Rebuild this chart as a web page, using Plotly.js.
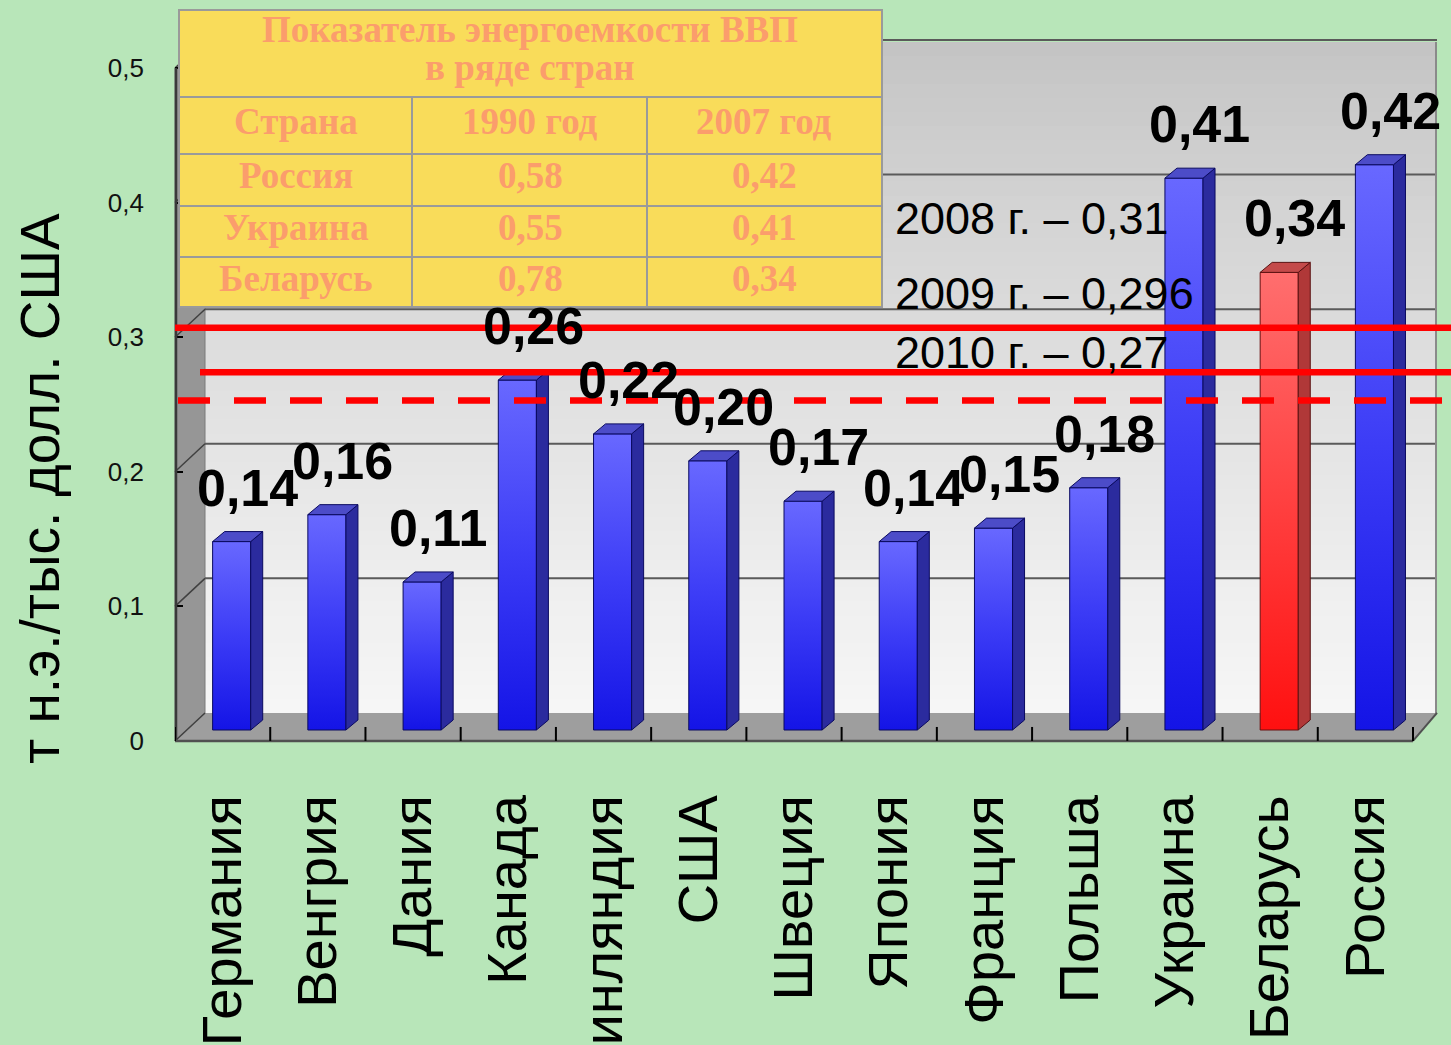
<!DOCTYPE html>
<html><head><meta charset="utf-8">
<script src="https://cdn.plot.ly/plotly-3.0.1.min.js"></script>
<style>html,body{margin:0;padding:0;background:#b8e6b9;overflow:hidden}#chart{width:1451px;height:1045px}</style>
</head><body><div id="chart"></div>
<script>
// ---------- data ----------
const categories = ['Германия','Венгрия','Дания','Канада','Финляндия','США','Швеция','Япония','Франция','Польша','Украина','Беларусь','Россия'];
const values = [0.14,0.16,0.11,0.26,0.22,0.20,0.17,0.14,0.15,0.18,0.41,0.34,0.42];
const highlight = 'Беларусь';
const yTickVals = [0,0.1,0.2,0.3,0.4,0.5];
const yTickText = ['0','0,1','0,2','0,3','0,4','0,5'];
const yTitle = 'т н.э./тыс. долл. США';
const noteLines = ['2008 г. – 0,31','2009 г. – 0,296','2010 г. – 0,27'];
const refLevels = [0.307, 0.274, 0.253];
const tableTitle = ['Показатель энергоемкости ВВП','в ряде стран'];
const tableHeader = ['Страна','1990 год','2007 год'];
const tableCountries = ['Россия','Украина','Беларусь'];
const table1990 = [0.58,0.55,0.78];
const table2007 = [0.42,0.41,0.34];

// ---------- geometry / style ----------
const W=1451,H=1045;
const L=175,R=1437,T=40,B=745;
const xRange=[-0.5,12.752];
const yRange=[-0.003,0.5208];
const xp = px => (px-L)/(R-L);
const yp = py => (B-py)/(B-T);
const yd = py => yRange[0]+(B-py)/(B-T)*(yRange[1]-yRange[0]);
const pxPerY = (B-T)/(yRange[1]-yRange[0]);
const pxPerX = (R-L)/(xRange[1]-xRange[0]);
const yFront = v => B - (v-yRange[0])*pxPerY;
const yBack = v => yFront(v) - 28;
const fmt = v => v.toFixed(2).replace('.',',');
const SANS = 'Liberation Sans, Arial, sans-serif';
const SERIF = 'Liberation Serif, Times New Roman, serif';

const barBase = yd(730);
const off = -0.105, w = 0.40;
const dx = 12/pxPerX, dy = 10/pxPerY;

const idx = categories.map((_,i)=>i);
const isHi = categories.map(c=>c===highlight);

function pathP(pts){ return 'M'+pts.map(p=>xp(p[0])+','+yp(p[1])).join('L')+'Z'; }

const shapes = [];
const bwTop=42, bwBot=713, bwL=205, bwR=1437, N=48;
for(let k=0;k<N;k++){
  const t=k/(N-1);
  const c=Math.round(196+(246-196)*Math.pow(t,0.85));
  const y0=bwTop+(bwBot-bwTop)*k/N, y1=bwTop+(bwBot-bwTop)*(k+1)/N+0.8;
  shapes.push({type:'rect',xref:'paper',yref:'paper',x0:xp(bwL),x1:xp(bwR),y0:yp(y1),y1:yp(y0),
    fillcolor:`rgb(${c},${c},${c})`,line:{width:0},layer:'below'});
}
shapes.push({type:'path',xref:'paper',yref:'paper',layer:'below',
  path:pathP([[L,yFront(0)],[L,yFront(0.5)],[L+30,yBack(0.5)],[L+30,yBack(0)]]),
  fillcolor:'#969696',line:{color:'#7a7a7a',width:1}});
shapes.push({type:'path',xref:'paper',yref:'paper',layer:'below',
  path:pathP([[L,yFront(0)],[1413,yFront(0)],[1437,yBack(0)],[L+30,yBack(0)]]),
  fillcolor:'#9e9e9e',line:{width:0}});
yTickVals.forEach(v=>{
  if(v>0) shapes.push({type:'line',xref:'paper',yref:'paper',layer:'below',
    x0:xp(bwL),x1:xp(bwR),y0:yp(yBack(v)),y1:yp(yBack(v)),line:{color:'#5a5a5a',width:2}});
  shapes.push({type:'line',xref:'paper',yref:'paper',layer:'below',
    x0:xp(L),x1:xp(L+30),y0:yp(yFront(v)),y1:yp(yBack(v)),line:{color:'#404040',width:1.5}});
});
shapes.push({type:'line',xref:'paper',yref:'paper',layer:'below',x0:xp(bwR-1),x1:xp(bwR-1),y0:yp(bwTop),y1:yp(bwBot),line:{color:'#8a8a8a',width:2}});
shapes.push({type:'line',xref:'paper',yref:'paper',layer:'above',x0:xp(L+1),x1:xp(L+1),y0:yp(yFront(0)),y1:yp(yFront(0.5)),line:{color:'#3a3a3a',width:2.5}});
shapes.push({type:'line',xref:'paper',yref:'paper',layer:'above',x0:xp(L),x1:xp(1413),y0:yp(yFront(0)),y1:yp(yFront(0)),line:{color:'#505050',width:2.5}});
shapes.push({type:'line',xref:'paper',yref:'paper',layer:'above',x0:xp(1413),x1:xp(1437),y0:yp(yFront(0)),y1:yp(yBack(0)),line:{color:'#505050',width:2}});
for(let k=0;k<=categories.length;k++){
  shapes.push({type:'line',xref:'x',yref:'paper',layer:'above',x0:k-0.5,x1:k-0.5,y0:yp(yFront(0)),y1:yp(yFront(0)-14),line:{color:'#000',width:2}});
}
const redStart=[L,200,178];
refLevels.forEach((v,i)=>{
  shapes.push({type:'line',xref:'paper',yref:'y',layer:'above',x0:xp(redStart[i]),x1:xp(W+5),y0:v,y1:v,
    line:{color:'#ff0000',width:6.5,dash:i===2?'32px,24px':'solid'}});
});
const tCols=[179,412,647,882], tRows=[10,97,154,206,257,307];
shapes.push({type:'rect',xref:'paper',yref:'paper',layer:'above',x0:xp(tCols[0]),x1:xp(tCols[3]),y0:yp(tRows[5]),y1:yp(tRows[0]),
  fillcolor:'#f9dc5a',line:{color:'#9a9a9a',width:2}});
for(let r=1;r<5;r++) shapes.push({type:'line',xref:'paper',yref:'paper',layer:'above',x0:xp(tCols[0]),x1:xp(tCols[3]),y0:yp(tRows[r]),y1:yp(tRows[r]),line:{color:'#9a9a9a',width:2}});
for(let c=1;c<3;c++) shapes.push({type:'line',xref:'paper',yref:'paper',layer:'above',x0:xp(tCols[c]),x1:xp(tCols[c]),y0:yp(tRows[1]),y1:yp(tRows[5]),line:{color:'#9a9a9a',width:2}});

// ---------- annotations ----------
const ann = [];
const tColor='#fb9d6c';
const tFont = s => ({family:SERIF,size:s,color:tColor});
const colC = [295.5,530,764];
const cell = (x,y,t)=>({xref:'paper',yref:'paper',x:xp(x),y:yp(y),text:'<b>'+t+'</b>',showarrow:false,font:tFont(37),xanchor:'center',yanchor:'middle'});
ann.push(cell(530,30,tableTitle[0]));
ann.push(cell(530,67,tableTitle[1]));
const rowC=[121,176,227,278];
tableHeader.forEach((t,c)=>ann.push(cell(colC[c],rowC[0],t)));
tableCountries.forEach((t,r)=>{
  [t,fmt(table1990[r]),fmt(table2007[r])].forEach((s,c)=>ann.push(cell(colC[c],rowC[r+1],s)));
});
idx.forEach(i=>ann.push({xref:'x',yref:'y',x:i+0.26,y:barBase+values[i],yshift:54,text:'<b>'+fmt(values[i])+'</b>',
  showarrow:false,xanchor:'center',yanchor:'middle',font:{family:SANS,size:52,color:'#000'}}));
const noteY=[218,293,352];
noteLines.forEach((t,i)=>ann.push({xref:'paper',yref:'paper',x:xp(893),y:yp(noteY[i]),text:t,showarrow:false,xanchor:'left',yanchor:'middle',font:{family:SANS,size:45,color:'#000'}}));
ann.push({xref:'paper',yref:'paper',x:xp(40),y:yp(489),text:yTitle,textangle:-90,showarrow:false,xanchor:'center',yanchor:'middle',font:{family:SANS,size:55,color:'#000'}});

// ---------- traces ----------
function faces(sel, kind){
  const xs=[],ys=[];
  idx.forEach(i=>{
    if(!sel(i)) return;
    const x0=i+off, x1=x0+w, top=barBase+values[i];
    const pts = kind==='side'
      ? [[x1,barBase],[x1,top],[x1+dx,top+dy],[x1+dx,barBase+dy]]
      : [[x0,top],[x1,top],[x1+dx,top+dy],[x0+dx,top+dy]];
    pts.concat([pts[0]]).forEach(p=>{xs.push(p[0]);ys.push(p[1]);});
    xs.push(null);ys.push(null);
  });
  return {xs,ys};
}
function polyTrace(sel,kind,fill,line){
  const f=faces(sel,kind);
  return {type:'scatter',mode:'lines',x:f.xs,y:f.ys,fill:'toself',fillcolor:fill,line:{color:line,width:1},hoverinfo:'skip',showlegend:false,connectgaps:false};
}
const traces = [
  {type:'bar',x:idx,y:values,base:barBase,offset:off,width:w,
   marker:{color:isHi.map(h=>h?'#ff4a4a':'#3c3cf4'),line:{color:isHi.map(h=>h?'#6a1010':'#0a0a60'),width:1}},
   hoverinfo:'skip',showlegend:false},
  polyTrace(i=>!isHi[i],'side','#2b2b9e','#0a0a60'),
  polyTrace(i=>!isHi[i],'top','#4c4cc8','#0a0a60'),
  polyTrace(i=>isHi[i],'side','#b03838','#5a1010'),
  polyTrace(i=>isHi[i],'top','#c44a4a','#5a1010'),
];

const layout = {
  width:W,height:H,
  margin:{l:L,r:W-R,t:T,b:H-B,pad:0},
  paper_bgcolor:'#b8e6b9',plot_bgcolor:'rgba(0,0,0,0)',
  showlegend:false,bargap:0,
  xaxis:{range:xRange,showgrid:false,zeroline:false,showline:false,tickmode:'array',tickvals:idx,ticktext:categories,
    tickangle:-90,ticks:'',ticklabelstandoff:38,automargin:false,fixedrange:true,
    tickfont:{family:SANS,size:56,color:'#000'}},
  yaxis:{range:yRange,showgrid:false,zeroline:false,showline:false,tickmode:'array',tickvals:yTickVals,ticktext:yTickText,
    ticks:'inside',ticklen:8,tickwidth:2,tickcolor:'#000',ticklabelstandoff:30,automargin:false,fixedrange:true,
    tickfont:{family:SANS,size:26,color:'#111'}},
  shapes:shapes,annotations:ann
};

Plotly.newPlot('chart',traces,layout,{staticPlot:true,displayModeBar:false}).then(gd=>{
  const svg=gd.querySelector('svg.main-svg');
  const ns='http://www.w3.org/2000/svg';
  let defs=svg.querySelector('defs');
  if(!defs){defs=document.createElementNS(ns,'defs');svg.insertBefore(defs,svg.firstChild);}
  function grad(id,stops){
    const g=document.createElementNS(ns,'linearGradient');
    g.setAttribute('id',id);g.setAttribute('x1','0');g.setAttribute('y1','0');g.setAttribute('x2','0');g.setAttribute('y2','1');
    stops.forEach(s=>{const st=document.createElementNS(ns,'stop');st.setAttribute('offset',s[0]);st.setAttribute('stop-color',s[1]);g.appendChild(st);});
    defs.appendChild(g);
  }
  grad('gBlue',[[0,'#6868ff'],[0.5,'#3c3cf6'],[1,'#1414e6']]);
  grad('gRed',[[0,'#ff6e6e'],[0.5,'#ff4040'],[1,'#ff1010']]);
  gd.querySelectorAll('.barlayer .trace').forEach(tr=>{
    tr.querySelectorAll('.point path').forEach((p,i)=>{ p.style.fill = isHi[i]?'url(#gRed)':'url(#gBlue)'; });
  });
});
</script></body></html>
